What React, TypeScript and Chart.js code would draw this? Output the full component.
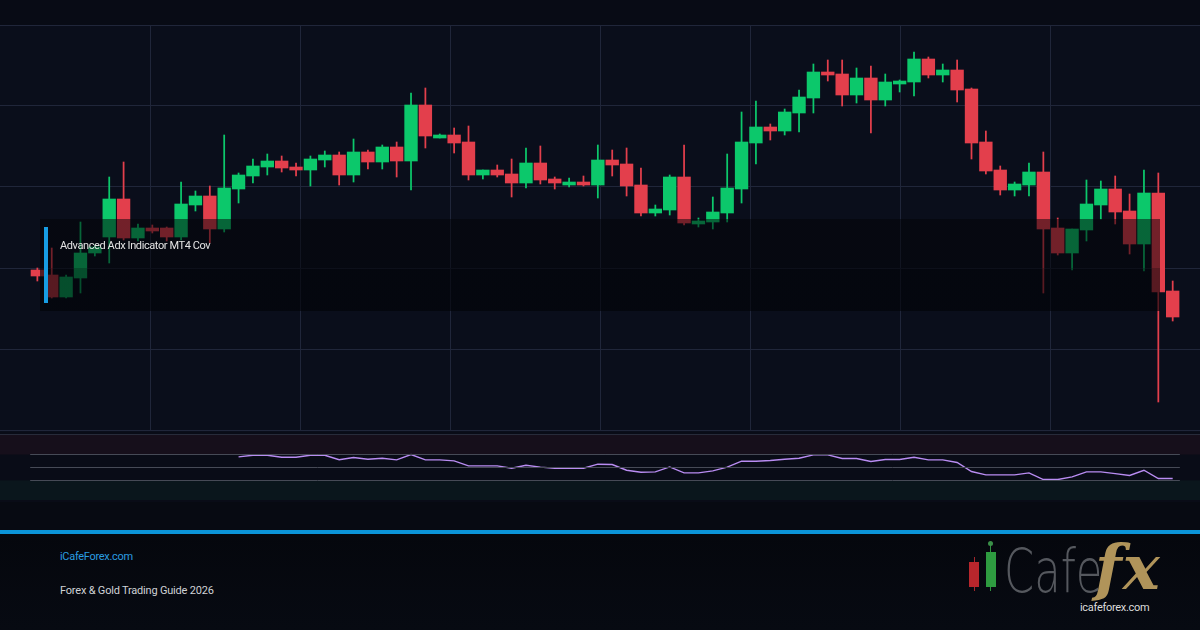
import React, { useEffect, useRef } from "react";
import { Chart, registerables } from "chart.js";

Chart.register(...registerables);

// ---- data ----
const opens = [
  2316.0, 2315.5, 2313.3, 2315.2, 2317.7, 2319.3, 2323.1, 2319.2, 2320.2, 2320.2,
  2319.3, 2322.5, 2323.4, 2320.1, 2324.1, 2325.4, 2326.3, 2326.9, 2326.3, 2326.0,
  2327.0, 2327.5, 2325.5, 2327.8, 2326.8, 2328.3, 2326.9, 2332.5, 2329.2, 2329.5,
  2328.8, 2325.5, 2326.0, 2325.6, 2324.7, 2326.7, 2325.1, 2324.5, 2324.8, 2324.5,
  2327.0, 2326.6, 2324.5, 2321.7, 2322.0, 2325.3, 2320.6, 2320.8, 2321.7, 2324.1,
  2328.7, 2330.3, 2329.9, 2331.7, 2333.2, 2335.8, 2335.6, 2333.5, 2335.2, 2333.0,
  2334.6, 2334.8, 2337.1, 2335.5, 2336.0, 2334.1, 2328.8, 2326.0, 2324.0, 2324.5,
  2325.8, 2320.2, 2317.7, 2320.0, 2322.5, 2324.1, 2321.9, 2318.6, 2323.7, 2313.9,
];
const highs = [
  2316.2, 2318.2, 2315.5, 2320.8, 2318.5, 2325.3, 2326.8, 2320.6, 2320.5, 2320.3,
  2324.8, 2323.9, 2324.4, 2329.5, 2325.7, 2327.1, 2327.6, 2327.4, 2326.7, 2327.4,
  2327.9, 2327.8, 2329.1, 2328.0, 2328.5, 2328.8, 2333.7, 2334.2, 2329.6, 2330.2,
  2330.4, 2326.0, 2326.5, 2327.1, 2328.2, 2328.4, 2325.3, 2325.2, 2325.4, 2328.5,
  2328.0, 2328.2, 2326.2, 2322.5, 2325.5, 2328.5, 2321.2, 2323.3, 2327.6, 2331.8,
  2332.9, 2330.6, 2332.1, 2334.0, 2336.6, 2337.0, 2337.0, 2336.2, 2336.4, 2335.6,
  2335.0, 2337.8, 2337.3, 2336.6, 2337.0, 2334.2, 2329.9, 2326.4, 2324.8, 2326.7,
  2327.8, 2321.2, 2320.1, 2325.0, 2324.9, 2325.4, 2323.6, 2326.0, 2325.7, 2314.9,
];
const lows = [
  2314.9, 2313.2, 2313.2, 2313.7, 2317.4, 2316.7, 2319.0, 2318.9, 2319.7, 2318.9,
  2319.0, 2321.9, 2318.7, 2319.8, 2322.7, 2324.7, 2325.5, 2325.8, 2325.4, 2324.4,
  2326.3, 2324.5, 2324.8, 2326.1, 2326.1, 2325.3, 2324.0, 2328.2, 2329.2, 2327.7,
  2325.0, 2325.1, 2325.3, 2323.3, 2324.2, 2324.6, 2324.1, 2324.3, 2324.4, 2323.2,
  2325.4, 2323.4, 2321.4, 2321.4, 2321.5, 2320.5, 2320.3, 2320.1, 2320.8, 2322.7,
  2326.6, 2329.0, 2329.5, 2329.8, 2331.7, 2334.9, 2332.4, 2332.7, 2329.7, 2332.4,
  2333.8, 2333.4, 2335.2, 2334.8, 2332.8, 2327.1, 2325.6, 2323.5, 2323.4, 2323.4,
  2313.7, 2317.5, 2316.0, 2318.9, 2321.1, 2320.6, 2317.6, 2315.9, 2302.8, 2310.9,
];
const closes = [
  2315.4, 2313.3, 2315.3, 2317.7, 2318.3, 2323.1, 2319.2, 2320.2, 2319.9, 2319.3,
  2322.6, 2323.4, 2320.1, 2324.2, 2325.5, 2326.4, 2326.9, 2326.2, 2326.0, 2327.1,
  2327.5, 2325.5, 2327.8, 2326.8, 2328.3, 2326.9, 2332.5, 2329.4, 2329.5, 2328.7,
  2325.5, 2326.0, 2325.5, 2324.7, 2326.7, 2325.0, 2324.7, 2324.8, 2324.5, 2327.0,
  2326.5, 2324.4, 2321.7, 2322.1, 2325.3, 2320.7, 2320.9, 2321.8, 2324.2, 2328.8,
  2330.3, 2329.9, 2331.8, 2333.3, 2335.8, 2335.5, 2333.5, 2335.2, 2333.0, 2334.8,
  2334.9, 2337.1, 2335.5, 2336.0, 2334.0, 2328.7, 2325.9, 2324.0, 2324.6, 2325.8,
  2320.1, 2317.7, 2320.1, 2322.6, 2324.1, 2321.8, 2318.6, 2323.7, 2313.8, 2311.3,
];

// oscillator panel (starts at candle 14)
const rsiStart = 14;
const rsiValues = [
  66.3, 68.9, 68.9, 65.8, 65.8, 68.9, 68.9, 62.0, 65.4, 62.8,
  64.3, 61.7, 70.0, 61.7, 61.7, 60.2, 52.5, 52.5, 52.5, 48.9,
  53.5, 50.5, 48.9, 48.9, 48.9, 55.1, 54.6, 45.8, 42.8, 43.2,
  50.9, 41.7, 41.7, 44.8, 50.5, 59.7, 59.7, 60.8, 62.8, 64.3,
  69.4, 69.4, 63.8, 63.8, 59.2, 62.3, 62.3, 65.8, 61.7, 61.7,
  57.7, 43.8, 38.6, 38.6, 38.6, 41.7, 31.5, 31.5, 35.5, 43.2,
  43.2, 40.5, 37.7, 45.8, 33.1, 33.1,
];
const rsiLevels = [70, 50, 30];
const priceGridLevels = [2300, 2308.1, 2316.2, 2324.3, 2332.4, 2340.5];

const overlayLabel = "Advanced Adx Indicator MT4 Cov";
const siteLabel = "iCafeForex.com";
const guideLabel = "Forex & Gold Trading Guide 2026";
const logoWord = "Cafe";
const logoFx = "fx";
const logoUrl = "icafeforex.com";

// ---- styling / layout ----
const UP = "#0cc86b";
const DOWN = "#e33f4c";
const GRID = "#20263a";
const X_MIN = -2.6;
const X_MAX = 80.9;
const FONT = "Roboto, 'Noto Sans', sans-serif";

function PriceChart() {
  const ref = useRef<HTMLCanvasElement | null>(null);
  useEffect(() => {
    const idx = opens.map((_, i) => i);
    const colors = idx.map((i) => (closes[i] >= opens[i] ? UP : DOWN));
    const bg = {
      id: "bg",
      beforeDraw(chart: any) {
        const { ctx, width, height, chartArea } = chart;
        ctx.save();
        ctx.fillStyle = "#0a0e1b";
        ctx.fillRect(0, 0, width, height);
        ctx.fillStyle = "#080b15";
        ctx.fillRect(0, 0, width, chartArea.top);
        ctx.restore();
      },
    };
    const chart = new Chart(ref.current as HTMLCanvasElement, {
      type: "bar",
      data: {
        datasets: [
          {
            label: "body",
            data: idx.map((i) => ({ x: i, y: [opens[i], closes[i]] })) as any,
            backgroundColor: colors,
            borderWidth: 0,
            barThickness: 12.7,
            minBarLength: 1,
            grouped: false,
            order: 0,
            xAxisID: "x",
            yAxisID: "y",
          } as any,
          {
            label: "wick",
            data: idx.map((i) => ({ x: i, y: [lows[i], highs[i]] })) as any,
            backgroundColor: colors,
            borderWidth: 0,
            barThickness: 1.1,
            grouped: false,
            order: 1,
            xAxisID: "x",
            yAxisID: "y",
          } as any,
        ],
      },
      options: {
        animation: false,
        responsive: false,
        events: [],
        layout: { padding: { top: 25, bottom: 2, left: 0, right: 0 } },
        plugins: { legend: { display: false }, tooltip: { enabled: false } },
        scales: {
          x: { type: "linear", display: false, min: X_MIN, max: X_MAX, offset: false },
          xg: {
            type: "linear",
            axis: "x",
            position: "bottom",
            min: 0,
            max: 8,
            offset: false,
            ticks: { display: false, stepSize: 1 },
            grid: {
              offset: false,
              drawTicks: false,
              color: (c: any) =>
                c.tick && c.tick.value > 0 && c.tick.value < 8 ? GRID : "rgba(0,0,0,0)",
            },
            border: { display: false },
          },
          y: {
            type: "linear",
            min: priceGridLevels[0],
            max: priceGridLevels[priceGridLevels.length - 1],
            afterBuildTicks: (ax: any) => {
              ax.ticks = priceGridLevels.map((v) => ({ value: v }));
            },
            ticks: { display: false },
            grid: { color: GRID, drawTicks: false },
            border: { display: false },
          },
        } as any,
      },
      plugins: [bg],
    });
    return () => chart.destroy();
  }, []);
  return (
    <canvas
      ref={ref}
      width={1200}
      height={432}
      style={{ position: "absolute", left: 0, top: 0, width: 1200, height: 432 }}
    />
  );
}

function OscillatorChart() {
  const ref = useRef<HTMLCanvasElement | null>(null);
  useEffect(() => {
    const n = opens.length;
    const bands = {
      id: "bands",
      beforeDraw(chart: any) {
        const { ctx, width, height } = chart;
        const y = chart.scales.y;
        const y100 = y.getPixelForValue(100);
        const y70 = y.getPixelForValue(70);
        const y30 = y.getPixelForValue(30);
        const y0 = y.getPixelForValue(0);
        ctx.save();
        ctx.fillStyle = "#090c17";
        ctx.fillRect(0, 0, width, height);
        ctx.fillStyle = "#160f1b";
        ctx.fillRect(0, y100, width, y70 - y100);
        ctx.fillStyle = "#0a161c";
        ctx.fillRect(0, y30, width, y0 - y30);
        ctx.fillStyle = "#272b3a";
        ctx.fillRect(0, y100 - 1, width, 1);
        ctx.restore();
      },
    };
    const levelSets = rsiLevels.map((lv) => ({
      label: "level " + lv,
      data: [
        { x: -0.5, y: lv },
        { x: n - 0.5, y: lv },
      ],
      borderColor: "#464a56",
      borderWidth: 1,
      pointRadius: 0,
      tension: 0,
    }));
    const chart = new Chart(ref.current as HTMLCanvasElement, {
      type: "line",
      data: {
        datasets: [
          ...levelSets,
          {
            label: "oscillator",
            data: rsiValues.map((v, k) => ({ x: rsiStart + k, y: v })),
            borderColor: "#b98cf2",
            borderWidth: 1.4,
            pointRadius: 0,
            tension: 0,
          },
        ] as any,
      },
      options: {
        animation: false,
        responsive: false,
        events: [],
        layout: { padding: { top: 3, bottom: 2, left: 0, right: 0 } },
        plugins: { legend: { display: false }, tooltip: { enabled: false } },
        scales: {
          x: { type: "linear", display: false, min: X_MIN, max: X_MAX },
          y: { type: "linear", display: false, min: 0, max: 100 },
        },
      },
      plugins: [bands],
    });
    return () => chart.destroy();
  }, []);
  return (
    <canvas
      ref={ref}
      width={1200}
      height={70}
      style={{ position: "absolute", left: 0, top: 432, width: 1200, height: 70 }}
    />
  );
}

const abs = (s: React.CSSProperties): React.CSSProperties => ({ position: "absolute", ...s });

export default function App() {
  useEffect(() => {
    document.body.style.margin = "0";
  }, []);
  return (
    <div
      style={{
        position: "fixed",
        left: 0,
        top: 0,
        width: 1200,
        height: 630,
        overflow: "hidden",
        background: "#05070d",
        fontFamily: FONT,
      }}
    >
      <PriceChart />
      <OscillatorChart />

      {/* indicator label overlay */}
      <div
        style={abs({
          left: 40,
          top: 219,
          width: 1120,
          height: 92,
          background:
            "linear-gradient(to bottom, rgba(2,3,7,0.5) 0px, rgba(2,3,7,0.5) 49px, rgba(2,3,7,0.62) 49px, rgba(2,3,7,0.62) 92px)",
        })}
      />
      <div style={abs({ left: 44, top: 227, width: 4, height: 76, background: "#179de3" })} />
      <div
        style={abs({
          left: 60,
          top: 239,
          fontSize: 11,
          lineHeight: "13px",
          color: "#e4e4e4",
          letterSpacing: "-0.4px",
          whiteSpace: "nowrap",
        })}
      >
        {overlayLabel}
      </div>

      {/* lower sections */}
      <div style={abs({ left: 0, top: 502, width: 1200, height: 28, background: "#070a12" })} />
      <div style={abs({ left: 0, top: 530, width: 1200, height: 4, background: "#0b94d8" })} />
      <div
        style={abs({
          left: 0,
          top: 534,
          width: 1200,
          height: 96,
          background: "linear-gradient(to bottom, #05070d, #070a12)",
        })}
      />

      {/* footer text */}
      <div
        style={abs({
          left: 60,
          top: 550,
          fontSize: 11,
          lineHeight: "13px",
          color: "#2a9de0",
          letterSpacing: "-0.3px",
          whiteSpace: "nowrap",
        })}
      >
        {siteLabel}
      </div>
      <div
        style={abs({
          left: 60,
          top: 584,
          fontSize: 11,
          lineHeight: "13px",
          color: "#cfd2d6",
          letterSpacing: "-0.2px",
          whiteSpace: "nowrap",
        })}
      >
        {guideLabel}
      </div>

      {/* logo */}
      <div style={abs({ left: 974, top: 557, width: 1, height: 34, background: "#a3262b" })} />
      <div style={abs({ left: 969, top: 562, width: 10, height: 25, background: "#b8262c" })} />
      <div style={abs({ left: 990, top: 545, width: 1, height: 46, background: "#2f8f3f" })} />
      <div
        style={abs({ left: 988, top: 541, width: 5, height: 5, borderRadius: 3, background: "#3a8f48" })}
      />
      <div style={abs({ left: 986, top: 552, width: 10, height: 35, background: "#2e9b40" })} />
      <div
        style={abs({
          left: 1004,
          top: 541,
          fontFamily: "'DejaVu Sans', sans-serif",
          fontWeight: 200,
          fontSize: 60,
          lineHeight: "60px",
          color: "#55585e",
          transform: "scaleX(0.72)",
          transformOrigin: "left top",
          whiteSpace: "nowrap",
        })}
      >
        {logoWord}
      </div>
      <div
        style={abs({
          left: 1095,
          top: 537,
          fontFamily: "'DejaVu Serif', serif",
          fontWeight: 700,
          fontStyle: "italic",
          fontSize: 62,
          lineHeight: "62px",
          color: "#b0945a",
          letterSpacing: "1px",
          whiteSpace: "nowrap",
        })}
      >
        {logoFx}
      </div>
      <div
        style={abs({
          left: 1080,
          top: 601,
          fontSize: 11,
          lineHeight: "13px",
          color: "#dcdcdc",
          letterSpacing: "-0.3px",
          whiteSpace: "nowrap",
        })}
      >
        {logoUrl}
      </div>
    </div>
  );
}
